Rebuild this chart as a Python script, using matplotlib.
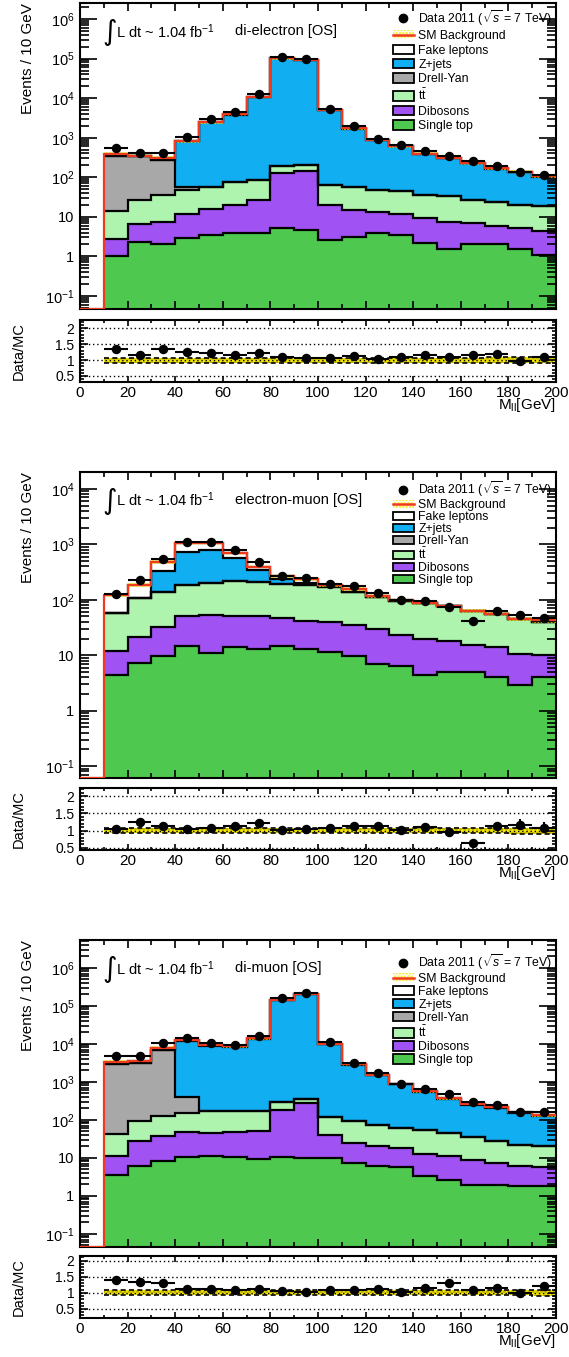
import numpy as np
import matplotlib
matplotlib.use('Agg')
import matplotlib.pyplot as plt
from matplotlib.lines import Line2D
from matplotlib.patches import Patch
from matplotlib.ticker import MultipleLocator, LogLocator, FuncFormatter, NullFormatter

plt.rcParams['font.family'] = ['Liberation Sans', 'DejaVu Sans']
plt.rcParams['mathtext.fontset'] = 'custom'
plt.rcParams['mathtext.rm'] = 'Liberation Sans'
plt.rcParams['mathtext.it'] = 'Liberation Sans:italic'
plt.rcParams['mathtext.bf'] = 'Liberation Sans:bold'
plt.rcParams['hatch.linewidth'] = 1.2

# 10 GeV bins in M_ll, 10 -> 200 GeV
edges = np.arange(10, 201, 10)

# ---- di-electron [OS]
ee_single_top = [1.0, 2.3, 2.1, 2.9, 3.5, 3.9, 4.0, 5.3, 4.6, 2.6, 3.1, 3.9, 3.4, 2.2, 1.5, 2.1, 2.1, 1.5, 1.1]
ee_dibosons = [1.8, 4.4, 5.3, 8.9, 12.5, 16, 23, 126, 142, 17, 12, 9.1, 8.1, 7.1, 5.7, 4.9, 3.6, 3.6, 3.2]
ee_ttbar = [11, 20, 29, 37, 40, 55, 58, 64, 58, 45, 42, 36, 34, 27, 26, 20, 18, 15, 14]
ee_drell_yan = [340, 323, 244, 8, 0, 0, 0, 0, 0, 0, 0, 0, 0, 0, 0, 0, 0, 0, 0]
ee_zjets = [0, 0, 0, 753, 2390, 3780, 10400, 101800, 92800, 4840, 1640, 830, 555, 355, 277, 198, 141, 117, 85]
ee_fakes = [45, 5, 30, 10, 30, 30, 100, 200, 500, 65, 20, 10, 5, 5, 2, 3, 2, 2, 2]
ee_data = [542, 408, 422, 1025, 3045, 4507, 12914, 112400, 98180, 5318, 1923, 925, 672, 460, 347, 264, 197, 135, 114]
ee_syst = [0.08, 0.08, 0.08, 0.08, 0.08, 0.08, 0.08, 0.08, 0.08, 0.08, 0.08, 0.08, 0.08, 0.08, 0.08, 0.08, 0.09, 0.1, 0.1]

# ---- electron-muon [OS]
em_single_top = [4.4, 7.2, 9.7, 14.4, 10.9, 14, 13.2, 14.4, 13, 11.3, 9.5, 6.9, 6.4, 4.4, 4.9, 5.0, 4.0, 2.9, 4.0]
em_dibosons = [7.6, 14.5, 22.3, 35.6, 42.6, 38, 36.8, 32.2, 29, 28.2, 25.5, 22.6, 16.9, 15.1, 13, 10, 10, 7.7, 6.3]
em_ttbar = [45, 85, 109, 137, 151, 162, 155, 148, 139, 134, 106, 85, 73, 67, 58, 48, 42, 34, 30]
em_drell_yan = [0, 0, 0, 0, 0, 0, 0, 0, 0, 0, 0, 0, 0, 0, 0, 0, 0, 0, 0]
em_zjets = [0, 0, 184, 543, 595, 351, 135, 41, 19, 3, 0, 0, 0, 0, 0, 0, 0, 0, 0]
em_fakes = [65, 77, 153, 315, 245, 135, 50, 36, 34, 5, 14, 3, 2, 0.5, 0, 1, 0, 0.4, 2]
em_data = [128, 230, 550, 1097, 1118, 805, 472, 274, 246, 196, 177, 134, 101, 96, 74, 42, 63, 53, 46]
em_syst = [0.08, 0.08, 0.08, 0.08, 0.08, 0.08, 0.08, 0.08, 0.08, 0.08, 0.08, 0.08, 0.08, 0.08, 0.08, 0.08, 0.08, 0.09, 0.09]

# ---- di-muon [OS]
mm_single_top = [3.5, 5.9, 8.0, 10.4, 10.8, 10.4, 9.4, 10.2, 9.8, 9.8, 7.2, 6.2, 5.6, 3.4, 2.6, 1.95, 1.95, 1.83, 1.76]
mm_dibosons = [7.8, 21, 30, 36, 34, 36, 40, 173, 265, 29, 17, 14.5, 12.4, 9.3, 8.2, 7.0, 5.3, 4.1, 3.8]
mm_ttbar = [32, 67, 89, 104, 121, 120, 120, 107, 81, 76, 66, 53, 42, 42, 34, 27, 21, 16, 15]
mm_drell_yan = [2860, 3010, 6520, 235, 0, 0, 0, 0, 0, 0, 0, 0, 0, 0, 0, 0, 0, 0, 0]
mm_zjets = [0, 0, 0, 11100, 8830, 8030, 13330, 139700, 199600, 9590, 2710, 1410, 800, 490, 305, 214, 176, 133, 104]
mm_fakes = [500, 450, 1250, 800, 300, 300, 500, 5000, 8000, 300, 100, 40, 20, 15, 15, 12, 10, 5, 5]
mm_data = [4798, 4798, 10187, 13776, 10416, 9350, 15820, 155150, 214240, 11000, 3132, 1718, 898, 644, 475, 288, 246, 160, 156]
mm_syst = [0.08, 0.08, 0.08, 0.08, 0.08, 0.08, 0.08, 0.08, 0.08, 0.08, 0.08, 0.08, 0.08, 0.08, 0.08, 0.08, 0.08, 0.08, 0.09]

names = ['Single top', 'Dibosons', r'$\mathrm{t\bar{t}}$', 'Drell-Yan', 'Z+jets', 'Fake leptons']
colors = ['#4ec84e', '#a052f2', '#aef4ae', '#a8a8a8', '#12aef2', '#ffffff']
red = '#f03a1e'
yellow = '#f2e600'

W, H = 569, 1357
fig = plt.figure(figsize=(W / 100, H / 100), dpi=100)


def px_axes(top, bottom, left=80, right=556):
    return [left / W, 1 - bottom / H, (right - left) / W, (bottom - top) / H]


def log_label(v, pos):
    e = int(round(np.log10(v)))
    if e == 0:
        return '1'
    if e == 1:
        return '10'
    return r'$10^{%d}$' % e


def draw_channel(top, bottom, rtop, rbottom, comps, data, syst, title,
                 ylim, rlim, leg_space, leg_hh, leg_top):
    ax = fig.add_axes(px_axes(top, bottom))
    rax = fig.add_axes(px_axes(rtop, rbottom))

    comps = [np.asarray(c, float) for c in comps]
    data = np.asarray(data, float)
    syst = np.asarray(syst, float)
    centers = 0.5 * (edges[:-1] + edges[1:])

    # stacked backgrounds, bottom to top
    cum = np.zeros(len(centers))
    for vals, col in zip(comps, colors):
        lower = np.maximum(cum, ylim[0])
        cum = cum + vals
        upper = np.maximum(cum, ylim[0])
        ax.fill_between(edges, np.r_[lower, lower[-1]], np.r_[upper, upper[-1]],
                        step='post', facecolor=col, lw=0, zorder=1)
    cum = np.zeros(len(centers))
    for vals in comps:
        cum = cum + vals
        ax.stairs(np.maximum(cum, ylim[0]), edges, baseline=None, color='k', lw=1.6, zorder=2)
    total = cum

    # SM background: uncertainty band and total line
    ax.fill_between(edges, np.r_[total * (1 - syst), total[-1] * (1 - syst[-1])],
                    np.r_[total * (1 + syst), total[-1] * (1 + syst[-1])],
                    step='post', facecolor='none', edgecolor=yellow, hatch='.....', lw=0, zorder=3)
    ax.stairs(np.r_[ylim[0], total], np.r_[0, edges], baseline=None, color=red, lw=1.6, zorder=4)

    ax.errorbar(centers, data, xerr=5, yerr=np.sqrt(data), fmt='o', color='k',
                ms=5.8, elinewidth=1.5, capsize=0, zorder=5)

    ax.set_yscale('log')
    ax.set_xlim(0, 200)
    ax.set_ylim(*ylim)
    ax.yaxis.set_major_locator(LogLocator(base=10, numticks=20))
    ax.yaxis.set_minor_locator(LogLocator(base=10, subs=np.arange(2, 10), numticks=20))
    ax.yaxis.set_major_formatter(FuncFormatter(log_label))
    ax.yaxis.set_minor_formatter(NullFormatter())
    ax.xaxis.set_major_locator(MultipleLocator(20))
    ax.xaxis.set_minor_locator(MultipleLocator(10))
    ax.tick_params(axis='both', which='both', direction='in', top=True, right=True, width=1.2)
    ax.tick_params(axis='y', which='major', length=12.5, labelsize=10.5, pad=4)
    ax.tick_params(axis='y', which='minor', length=6.5)
    ax.tick_params(axis='x', which='major', length=6, labelbottom=False)
    ax.tick_params(axis='x', which='minor', length=3.5)
    for s in ax.spines.values():
        s.set_linewidth(1.5)

    # luminosity and channel
    ax.text(0.046, 0.905, '\u222b', transform=ax.transAxes, fontsize=20,
            family=['DejaVu Sans'], va='center', ha='left')
    ax.text(0.075, 0.908, r'L dt ~ 1.04 fb$^{-1}$', transform=ax.transAxes,
            fontsize=10.5, va='center', ha='left')
    ax.text(0.325, 0.908, title, transform=ax.transAxes, fontsize=10.5, va='center', ha='left')

    handles = [Line2D([], [], marker='o', color='k', ls='none', ms=6),
               (Patch(facecolor='none', edgecolor=yellow, hatch='.....', lw=0),
                Line2D([], [], color=red, lw=1.8))]
    labels = [r'Data 2011 ($\sqrt{s}$ = 7 TeV)', 'SM Background']
    for n, c in list(zip(names, colors))[::-1]:
        handles.append(Patch(facecolor=c, edgecolor='k', lw=1.3))
        labels.append(n)
    ax.legend(handles, labels, loc='upper left', bbox_to_anchor=(0.657, leg_top),
              frameon=False, fontsize=8.8, handlelength=1.75, handleheight=leg_hh,
              handletextpad=0.35, labelspacing=leg_space, borderpad=0, borderaxespad=0)

    # ratio panel
    rax.fill_between(edges, np.r_[1 - syst, 1 - syst[-1]], np.r_[1 + syst, 1 + syst[-1]],
                     step='post', facecolor=yellow, edgecolor='#b8a800', hatch='....', lw=0, zorder=1)
    rax.stairs(1 + syst, edges, baseline=None, color='k', ls=(0, (3, 2)), lw=1.2, zorder=2)
    rax.stairs(1 - syst, edges, baseline=None, color='k', ls=(0, (3, 2)), lw=1.2, zorder=2)
    for v in (0.5, 1.0, 1.5, 2.0):
        rax.axhline(v, color='k', ls=(0, (1, 2)), lw=1.0, zorder=3)
    ratio = data / total
    rerr = np.sqrt(data) / total
    rax.errorbar(centers, ratio, xerr=5, yerr=rerr, fmt='o', color='k',
                 ms=5.8, elinewidth=1.5, capsize=0, zorder=5)
    rax.set_xlim(0, 200)
    rax.set_ylim(*rlim)
    rax.set_yticks([0.5, 1, 1.5, 2])
    rax.set_yticklabels(['0.5', '1', '1.5', '2'])
    rax.yaxis.set_minor_locator(MultipleLocator(0.1))
    rax.xaxis.set_major_locator(MultipleLocator(20))
    rax.xaxis.set_minor_locator(MultipleLocator(10))
    rax.tick_params(axis='both', which='both', direction='in', top=True, right=True, width=1.2)
    rax.tick_params(axis='y', which='major', length=6, labelsize=10, pad=4)
    rax.tick_params(axis='y', which='minor', length=3)
    rax.tick_params(axis='x', which='major', length=4, labelsize=11, pad=3)
    rax.tick_params(axis='x', which='minor', length=2.5)
    for s in rax.spines.values():
        s.set_linewidth(1.5)

    fig.text(28 / W, 1 - top / H, 'Events / 10 GeV', rotation=90, ha='center', va='top', fontsize=11)
    fig.text(19 / W, 1 - 0.5 * (rtop + rbottom) / H, 'Data/MC', rotation=90,
             ha='center', va='center', fontsize=10.5)
    fig.text(556 / W, 1 - (rbottom + 23) / H, r'M$_{\mathrm{ll}}$[GeV]', ha='right',
             va='center', fontsize=11)


draw_channel(3.3, 309.3, 320, 381.7,
             [ee_single_top, ee_dibosons, ee_ttbar, ee_drell_yan, ee_zjets, ee_fakes],
             ee_data, ee_syst, 'di-electron [OS]',
             (10 ** -1.34, 10 ** 6.4), (0.32, 2.26), 0.2, 0.8, 0.985)
draw_channel(471.7, 778.3, 788.3, 850,
             [em_single_top, em_dibosons, em_ttbar, em_drell_yan, em_zjets, em_fakes],
             em_data, em_syst, 'electron-muon [OS]',
             (10 ** -1.22, 10 ** 4.31), (0.44, 2.23), 0.0, 0.7, 0.975)
draw_channel(940, 1246.7, 1256, 1318,
             [mm_single_top, mm_dibosons, mm_ttbar, mm_drell_yan, mm_zjets, mm_fakes],
             mm_data, mm_syst, 'di-muon [OS]',
             (10 ** -1.34, 10 ** 6.73), (0.22, 2.14), 0.08, 0.8, 0.96)

fig.savefig('out.png', dpi=100)
